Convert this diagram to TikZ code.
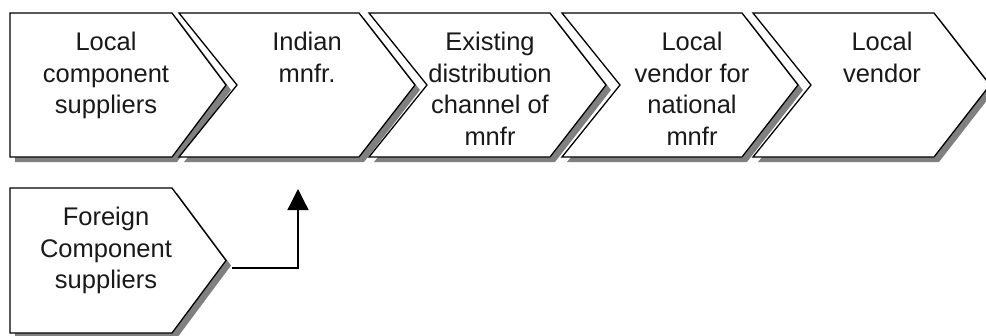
\documentclass[tikz,border=0pt]{standalone}
\usepackage{fontspec}
\setmainfont{Liberation Sans}
\usetikzlibrary{arrows.meta}
\definecolor{shadowc}{HTML}{808080}
\newcommand\chevbox[6]{% L, R, top, bottom, notch dx, tip dx
  \fill[shadowc,shift={(5,5)}] (#1,#3) -- (#2,#3) -- ({#2+#6},{(#3+#4)/2}) -- (#2,#4) -- (#1,#4) -- ({#1+#5},{(#3+#4)/2}) -- cycle;
  \filldraw[fill=white,draw=black] (#1,#3) -- (#2,#3) -- ({#2+#6},{(#3+#4)/2}) -- (#2,#4) -- (#1,#4) -- ({#1+#5},{(#3+#4)/2}) -- cycle;
}
\begin{document}
\begin{tikzpicture}[x=1pt,y=-1pt,line width=1.3pt,
  lbl/.style={anchor=north,align=center,inner sep=0pt,font=\fontsize{25.5}{31.5}\selectfont,text=black!90}]
\useasboundingbox (0,0) rectangle (986,335);
\chevbox{10}{172}{13}{157}{0}{54}
\chevbox{179}{359}{13}{157}{58}{56}
\chevbox{369}{550}{13}{157}{58}{56}
\chevbox{562}{742}{13}{157}{58}{56}
\chevbox{753}{934}{13}{157}{58}{56}
\chevbox{10}{172}{188}{333}{0}{54}
\node[lbl] (b1) at (106,31.5) {Local\\component\\suppliers};
\node[lbl] (b2) at (307,31.5) {Indian\\mnfr.};
\node[lbl] (b3) at (490,31.5) {Existing\\distribution\\channel of\\mnfr};
\node[lbl] (b4) at (692,31.5) {Local\\vendor for\\national\\mnfr};
\node[lbl] (b5) at (882,31.5) {Local\\vendor};
\node[lbl] (f) at (106,206.5) {Foreign\\Component\\suppliers};
\coordinate (ftip) at (232,268);
\coordinate (atop) at (298,189);
\draw[-{Triangle[width=21pt,length=21pt]}] (ftip) -| (atop);
\end{tikzpicture}
\end{document}
